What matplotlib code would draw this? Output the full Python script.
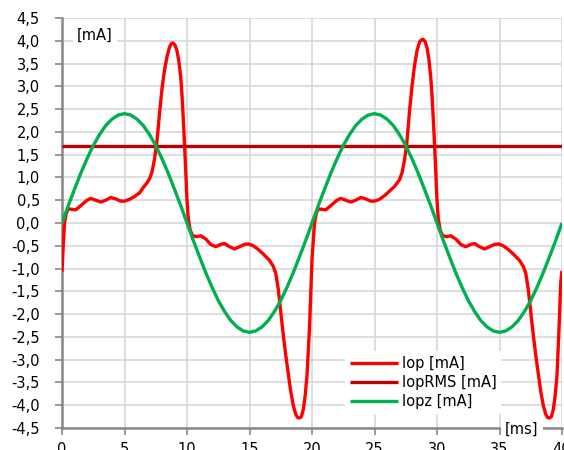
import matplotlib
matplotlib.use("Agg")
import matplotlib.pyplot as plt
from matplotlib.ticker import FuncFormatter, MultipleLocator

# Data
# -------------------------------
# time axis [ms] and Iop [mA]
iop_t = [0.0, 0.1, 0.2, 0.35, 0.5, 0.8, 1.1, 1.5, 2.0, 2.3, 2.7, 3.1, 3.5, 3.9,
         4.3, 4.7, 5.0, 5.4, 5.8, 6.2, 6.5, 6.8, 7.0, 7.2, 7.4, 7.6, 7.8, 8.0,
         8.2, 8.4, 8.6, 8.75, 8.9, 9.05, 9.2, 9.35, 9.5, 9.6, 9.7, 9.8, 9.9,
         10.0, 10.1, 10.25, 10.45, 10.8, 11.1, 11.5, 11.9, 12.3, 12.7, 13.0,
         13.4, 13.8, 14.2, 14.6, 14.9, 15.3, 15.7, 16.1, 16.6, 16.9, 17.1,
         17.3, 17.5, 17.7, 17.9, 18.1, 18.3, 18.5, 18.7, 18.85, 19.0, 19.15,
         19.3, 19.45, 19.6, 19.8,
         20.0, 20.2, 20.35, 20.5, 20.8, 21.1, 21.5, 22.0, 22.3, 22.7, 23.1,
         23.5, 23.9, 24.3, 24.7, 25.0, 25.4, 25.8, 26.2, 26.6, 27.0, 27.2,
         27.4, 27.6, 27.8, 28.0, 28.2, 28.4, 28.6, 28.75, 28.9, 29.05, 29.2,
         29.35, 29.5, 29.6, 29.7, 29.8, 29.9, 30.0, 30.1, 30.25, 30.45, 30.8,
         31.1, 31.5, 31.9, 32.3, 32.7, 33.0, 33.4, 33.8, 34.2, 34.6, 34.9,
         35.3, 35.7, 36.1, 36.6, 36.9, 37.1, 37.3, 37.5, 37.7, 37.9, 38.1,
         38.3, 38.5, 38.7, 38.85, 39.0, 39.15, 39.3, 39.45, 39.6, 39.75,
         39.9, 40.0]
iop_v = [-1.07, -0.5, 0.0, 0.22, 0.31, 0.30, 0.29, 0.38, 0.50, 0.54, 0.50,
         0.46, 0.50, 0.56, 0.53, 0.48, 0.48, 0.52, 0.58, 0.66, 0.78, 0.88,
         0.97, 1.12, 1.40, 1.80, 2.40, 2.95, 3.35, 3.65, 3.86, 3.94, 3.95,
         3.90, 3.78, 3.55, 3.20, 2.80, 2.30, 1.75, 1.15,
         0.50, 0.10, -0.15, -0.28, -0.30, -0.28, -0.35, -0.47, -0.52, -0.47,
         -0.45, -0.52, -0.57, -0.52, -0.47, -0.46, -0.50, -0.58, -0.68,
         -0.82, -0.95, -1.10, -1.45, -1.95, -2.45, -2.90, -3.30, -3.70,
         -4.00, -4.20, -4.27, -4.28, -4.25, -4.10, -3.80, -3.35, -2.30,
         -0.80, 0.0, 0.22, 0.31, 0.30, 0.29, 0.38, 0.50, 0.54, 0.50, 0.46,
         0.50, 0.56, 0.53, 0.48, 0.48, 0.52, 0.60, 0.70, 0.80, 0.95, 1.10,
         1.38, 1.80, 2.45, 3.00, 3.45, 3.78, 3.97, 4.02, 4.03, 3.98, 3.85,
         3.60, 3.20, 2.80, 2.30, 1.75, 1.15, 0.50, 0.10, -0.15, -0.28, -0.30,
         -0.28, -0.35, -0.47, -0.52, -0.47, -0.45, -0.52, -0.57, -0.52,
         -0.47, -0.46, -0.50, -0.58, -0.68, -0.82, -0.95, -1.10, -1.45,
         -1.95, -2.45, -2.90, -3.30, -3.70, -4.00, -4.20, -4.27, -4.28,
         -4.25, -4.10, -3.80, -3.35, -2.40, -1.30, -1.05]

# IopRMS [mA]
rms_t = [0.0, 40.0]
rms_v = [1.70, 1.70]

# Iopz [mA], sampled every 0.5 ms
iopz_t = [0.5 * k for k in range(81)]
iopz_v = [0.00, 0.38, 0.74, 1.09, 1.41, 1.70, 1.94, 2.14, 2.28, 2.37, 2.40,
          2.37, 2.28, 2.14, 1.94, 1.70, 1.41, 1.09, 0.74, 0.38, 0.00,
          -0.38, -0.74, -1.09, -1.41, -1.70, -1.94, -2.14, -2.28, -2.37, -2.40,
          -2.37, -2.28, -2.14, -1.94, -1.70, -1.41, -1.09, -0.74, -0.38, 0.00,
          0.38, 0.74, 1.09, 1.41, 1.70, 1.94, 2.14, 2.28, 2.37, 2.40,
          2.37, 2.28, 2.14, 1.94, 1.70, 1.41, 1.09, 0.74, 0.38, 0.00,
          -0.38, -0.74, -1.09, -1.41, -1.70, -1.94, -2.14, -2.28, -2.37, -2.40,
          -2.37, -2.28, -2.14, -1.94, -1.70, -1.41, -1.09, -0.74, -0.38, 0.00]

labels = ['Iop [mA]', 'IopRMS [mA]', 'Iopz [mA]']
colors = ['#FF0000', '#C00000', '#00B050']

plt.rcParams['font.family'] = 'DejaVu Sans'
plt.rcParams['font.size'] = 10.5

fig = plt.figure(figsize=(5.64, 4.5), dpi=100)
ax = fig.add_axes([62/564, 1-428/450, 500/564, 410/450])

lw = 2.4
kw = dict(lw=lw, zorder=3, solid_joinstyle='round', solid_capstyle='butt')
ax.plot(iop_t, iop_v, color=colors[0], label=labels[0], **kw)
ax.plot(rms_t, rms_v, color=colors[1], label=labels[1], **kw)
ax.plot(iopz_t, iopz_v, color=colors[2], label=labels[2], **kw)

ax.set_xlim(0, 40)
ax.set_ylim(-4.5, 4.5)
ax.xaxis.set_major_locator(MultipleLocator(5))
ax.yaxis.set_major_locator(MultipleLocator(0.5))
ax.yaxis.set_major_formatter(FuncFormatter(lambda v, p: ('%.1f' % v).replace('.', ',')))
ax.xaxis.set_major_formatter(FuncFormatter(lambda v, p: '%d' % v))

ax.grid(True, color='#D4D4D4', lw=1.1, zorder=0)
ax.set_axisbelow(True)
for s in ['top', 'right']:
    ax.spines[s].set_visible(False)
for s in ['left', 'bottom']:
    ax.spines[s].set_color('#888888')
    ax.spines[s].set_linewidth(1.8)
ax.tick_params(axis='y', length=5, width=1.2, color='#888888', pad=11)
ax.tick_params(axis='x', length=5, width=1.2, color='#888888', pad=5)

# axis unit labels sitting on white boxes
ax.text(522/564, 1-429/450, '[ms]', transform=fig.transFigure,
        ha='center', va='center', zorder=5,
        bbox=dict(facecolor='white', edgecolor='none', pad=3))
ax.text(95/564, 1-35/450, '[mA]', transform=fig.transFigure,
        ha='center', va='center', zorder=5,
        bbox=dict(facecolor='white', edgecolor='none', pad=3))

leg = ax.legend(loc='upper left', bbox_to_anchor=(0.552, 0.205),
                frameon=True, facecolor='white', edgecolor='none',
                framealpha=1, fancybox=False, handlelength=3.3,
                handletextpad=0.3, labelspacing=0.3, borderpad=0.3)

fig.savefig('out.png', dpi=100)
